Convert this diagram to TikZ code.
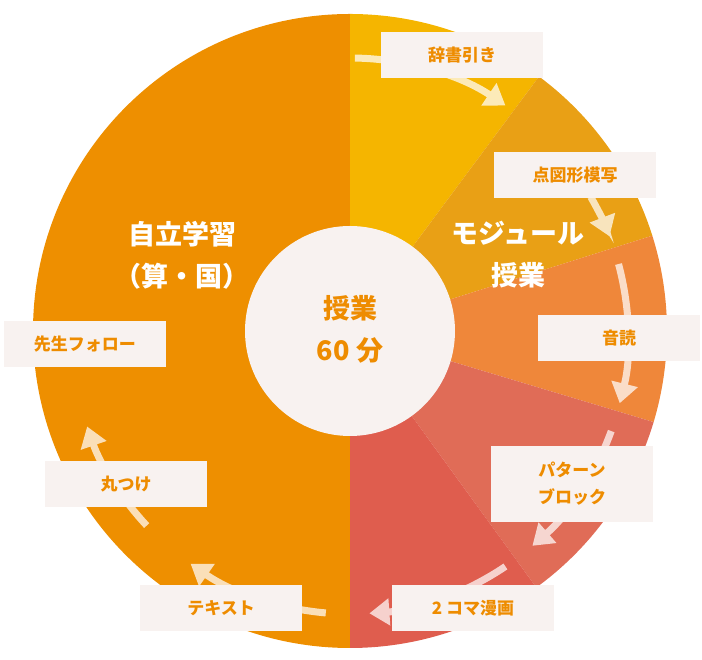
\documentclass[tikz,border=0pt]{standalone}
\usepackage{fontspec}
\setmainfont{Noto Sans CJK JP}
\usetikzlibrary{arrows.meta,calc}
\definecolor{cLeft}{HTML}{EE8F00}
\definecolor{cYel}{HTML}{F5B500}
\definecolor{cGold}{HTML}{E9A015}
\definecolor{cOra}{HTML}{EF873A}
\definecolor{cSal}{HTML}{E06C57}
\definecolor{cRed}{HTML}{DF5D4E}
\definecolor{cBox}{HTML}{F8F2F0}
\definecolor{cTxt}{HTML}{EE8C00}
\tikzset{
  lbl/.style={fill=cBox, text=cTxt, font=\bfseries\fontsize{17}{27}\selectfont, minimum width=162pt, minimum height=46pt, align=center, inner sep=0pt},
  big/.style={text=white, font=\bfseries\fontsize{27}{42}\selectfont, align=center},
  flow/.style={white, line width=7pt, -{Triangle[length=20pt,width=26pt]}}
}
\begin{document}
\begin{tikzpicture}[x=1pt,y=1pt]
\useasboundingbox (0,0) rectangle (702,660);
% pie
\coordinate (c) at (350,329);
\fill[cLeft] (c) -- ++(90:317) arc[start angle=90,end angle=270,radius=317] -- cycle;
\fill[cYel] (c) -- ++(90:317) arc[start angle=90,end angle=53.4,radius=317] -- cycle;
\fill[cGold] (c) -- ++(53.4:317) arc[start angle=53.4,end angle=17.5,radius=317] -- cycle;
\fill[cOra] (c) -- ++(17.5:317) arc[start angle=17.5,end angle=-16.7,radius=317] -- cycle;
\fill[cSal] (c) -- ++(-16.7:317) arc[start angle=-16.7,end angle=-54,radius=317] -- cycle;
\fill[cRed] (c) -- ++(-54:317) arc[start angle=-54,end angle=-90,radius=317] -- cycle;
% flow arrows
\coordinate (o) at (350,324);
\begin{scope}[transparency group, opacity=0.72]
\foreach \a/\b in {89/56, 30/21, 15/-14, -20/-49, -56/-86, -95/-125, -137/-161}
  \draw[flow] ($(o)+(\a:278)$) arc[start angle=\a,end angle=\b,radius=278];
\end{scope}
% centre
\node[circle, fill=cBox, minimum size=210pt] (hub) at (c) {};
\node[text=cTxt, font=\bfseries\fontsize{27}{42}\selectfont, align=center] (hubtxt) at (350,331) {授業\\60 分};
\node[big] (self) at (182,405) {自立学習\\（算・国）};
\node[big] (mod) at (518,405) {モジュール\\授業};
% labels
\node[lbl] (dict) at (462,605) {辞書引き};
\node[lbl] (copy) at (575,485) {点図形模写};
\node[lbl] (read) at (619,322) {音読};
\node[lbl, minimum height=76pt] (pat) at (572,176) {パターン\\ブロック};
\node[lbl] (manga) at (473,52) {2 コマ漫画};
\node[lbl] (text) at (221,52) {テキスト};
\node[lbl] (mark) at (126,176) {丸つけ};
\node[lbl] (follow) at (85,316) {先生フォロー};
\end{tikzpicture}
\end{document}
